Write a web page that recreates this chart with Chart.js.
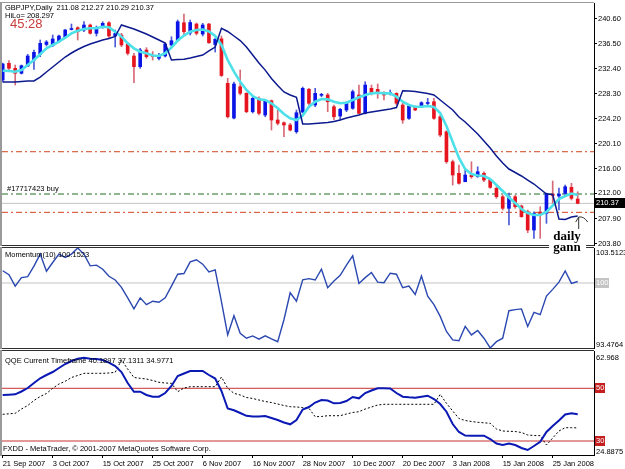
<!DOCTYPE html>
<html>
<head>
<meta charset="utf-8">
<title>GBPJPY Daily</title>
<script src="https://cdn.jsdelivr.net/npm/chart.js@4.4.1/dist/chart.umd.min.js"></script>
<style>
  html, body { margin: 0; padding: 0; background: #ffffff; }
  #wrap { position: relative; width: 625px; height: 469px; overflow: hidden; background: #fff; }
  #wrap canvas { position: absolute; left: 0; }
  #mainChart { top: 0; z-index: 3; }
  #momChart { top: 240px; z-index: 2; }
  #qqeChart { top: 340px; z-index: 1; }
</style>
</head>
<body>
<div id="wrap">
  <canvas id="mainChart" width="625" height="262"></canvas>
  <canvas id="momChart" width="625" height="120"></canvas>
  <canvas id="qqeChart" width="625" height="129"></canvas>
</div>
<script>
// ======================================================
// GBPJPY DAILY — candles + HiLo, Momentum(10), QQE
// ======================================================

// ---- data ----
const dateLabels = ["21 Sep 2007", "3 Oct 2007", "15 Oct 2007", "25 Oct 2007", "6 Nov 2007", "16 Nov 2007",
    "28 Nov 2007", "10 Dec 2007", "20 Dec 2007", "3 Jan 2008", "15 Jan 2008", "25 Jan 2008"];
const dateTickIndex = [0, 8, 16, 24, 32, 40, 48, 56, 64, 72, 80, 88];
const priceTicks = [240.60, 236.50, 232.40, 228.30, 224.20, 220.10, 216.00, 212.00, 207.90, 203.80];

const openP = [
    230.55, 233.28, 232.47, 231.65, 232.84, 233.82, 234.76, 236.36, 236.16, 236.82,
    237.54, 238.81, 239.11, 238.73, 239.55, 238.19, 239.27, 239.92, 237.75, 237.91,
    236.44, 234.48, 232.73, 235.46, 234.60, 234.10, 234.48, 236.28, 236.98, 239.92,
    238.24, 239.71, 238.07, 239.71, 236.36, 237.29, 230.01, 224.33, 229.45, 228.37,
    225.36, 227.55, 224.82, 227.16, 224.01, 223.56, 223.19, 222.09, 225.31, 229.03,
    226.46, 228.05, 228.10, 226.18, 224.66, 225.64, 225.92, 228.10, 225.10, 229.19,
    229.03, 228.54, 228.32, 228.37, 226.46, 224.28, 226.18, 226.18, 226.71, 227.00,
    224.54, 222.09, 217.18, 215.29, 213.91, 215.01, 214.73, 215.29, 214.30, 212.83,
    211.46, 209.56, 211.46, 209.94, 209.00, 206.01, 208.95, 208.74, 211.90, 211.57,
    212.01, 212.99, 211.08];
const highP = [
    233.33, 233.71, 233.01, 233.01, 234.76, 235.46, 237.10, 237.01, 237.91, 237.91,
    238.85, 239.71, 239.27, 240.09, 239.71, 239.39, 240.09, 240.09, 238.73, 238.19,
    236.65, 234.92, 235.74, 235.84, 235.20, 234.92, 236.60, 237.63, 240.37, 241.35,
    240.37, 239.87, 239.82, 239.82, 237.42, 237.75, 230.83, 230.22, 232.19, 228.47,
    227.82, 227.82, 227.28, 227.28, 225.64, 223.73, 223.47, 225.64, 229.40, 229.19,
    229.19, 228.37, 228.37, 226.46, 225.92, 227.00, 228.92, 229.73, 230.27, 229.73,
    229.90, 228.64, 228.92, 228.47, 226.74, 226.46, 226.30, 227.00, 227.55, 227.55,
    224.82, 222.25, 217.46, 216.64, 216.10, 217.18, 216.36, 215.55, 214.47, 213.09,
    211.73, 212.06, 211.73, 210.10, 209.28, 209.00, 209.82, 212.06, 214.03, 212.88,
    213.37, 213.65, 212.27];
const lowP = [
    230.22, 231.91, 229.73, 231.53, 232.73, 232.30, 234.36, 236.11, 236.00, 236.72,
    237.37, 238.73, 237.10, 238.45, 238.07, 237.75, 239.01, 237.37, 235.95, 236.00,
    234.64, 230.11, 232.46, 234.10, 233.82, 233.82, 234.31, 236.00, 236.93, 237.91,
    237.91, 237.91, 237.75, 236.55, 235.13, 231.12, 224.33, 224.17, 228.10, 225.20,
    225.15, 224.82, 224.54, 222.37, 223.19, 221.27, 222.21, 221.83, 225.15, 226.46,
    226.18, 227.82, 225.36, 224.01, 224.01, 225.36, 225.76, 224.99, 224.99, 228.10,
    227.55, 227.28, 228.10, 226.46, 223.47, 224.12, 225.53, 226.08, 226.46, 224.12,
    221.27, 216.92, 213.37, 213.53, 213.91, 214.47, 214.63, 213.91, 212.83, 211.19,
    209.28, 206.83, 209.56, 208.09, 205.57, 204.65, 204.65, 207.10, 210.37, 209.28,
    211.73, 210.92, 210.29];
const closeP = [
    233.17, 232.47, 231.65, 232.89, 234.48, 235.08, 236.55, 236.77, 237.26, 237.75,
    238.73, 238.89, 238.45, 239.55, 238.19, 239.17, 239.82, 237.75, 238.16, 236.28,
    234.92, 232.73, 235.46, 234.36, 234.40, 234.48, 236.44, 236.98, 240.09, 238.45,
    239.96, 238.19, 239.55, 236.65, 237.21, 231.29, 224.54, 229.90, 228.37, 225.36,
    227.55, 225.10, 227.16, 224.01, 223.47, 223.19, 222.37, 225.20, 229.19, 226.74,
    228.37, 228.15, 227.00, 224.54, 225.76, 226.84, 228.64, 225.10, 229.73, 228.37,
    228.64, 228.10, 228.42, 226.74, 224.01, 226.30, 225.64, 226.84, 226.79, 224.28,
    221.55, 217.18, 215.01, 213.65, 215.01, 214.73, 215.55, 214.19, 212.99, 211.46,
    209.56, 211.46, 209.82, 208.19, 206.01, 208.74, 208.62, 212.01, 211.66, 211.90,
    213.09, 211.19, 210.37];

// cyan fast average and the dark blue HiLo line
const fastMA = [
    232.07, 232.02, 231.91, 232.19, 233.01, 233.82, 234.76, 235.74, 236.28, 236.82,
    237.47, 238.19, 238.62, 238.90, 239.01, 239.01, 239.27, 239.17, 238.45, 237.64,
    236.56, 235.74, 235.18, 234.92, 234.56, 234.48, 234.92, 235.87, 237.01, 237.83,
    238.45, 238.73, 238.81, 238.49, 237.75, 236.28, 233.82, 231.91, 230.27, 228.92,
    227.93, 227.39, 227.28, 226.74, 225.92, 224.99, 224.29, 224.01, 224.74, 226.18,
    227.00, 227.44, 227.39, 227.00, 226.74, 226.84, 227.28, 227.72, 228.10, 228.37,
    228.47, 228.37, 228.37, 227.82, 227.00, 226.46, 226.18, 226.18, 226.30, 226.13,
    225.15, 223.03, 220.41, 217.79, 215.99, 215.17, 214.93, 214.85, 214.36, 213.37,
    212.39, 211.33, 210.43, 209.45, 208.79, 208.47, 208.47, 208.96, 210.02, 211.08,
    211.57, 211.98, 211.74];
const hiLo = [
    230.22, 230.22, 230.22, 230.30, 230.39, 230.39, 231.04, 231.86, 232.68, 233.50,
    234.31, 234.97, 235.54, 236.03, 236.44, 236.77, 237.10, 237.34, 237.67, 239.55,
    239.22, 238.90, 238.49, 238.08, 237.59, 237.10, 236.61, 233.82, 233.91, 233.94,
    234.15, 234.40, 234.64, 235.30, 235.95, 239.01, 238.49, 237.75, 237.01, 235.95,
    234.64, 233.33, 232.17, 230.80, 229.65, 228.59, 228.10, 227.72, 223.35, 223.35,
    223.43, 223.52, 223.60, 223.76, 224.01, 224.33, 224.58, 224.83, 225.15, 225.32,
    225.48, 225.64, 225.81, 226.05, 228.80, 228.75, 228.67, 228.51, 228.34, 228.10,
    227.28, 226.46, 225.64, 224.50, 223.68, 222.70, 221.72, 220.57, 219.43, 218.12,
    216.97, 215.99, 215.42, 214.85, 214.19, 213.54, 212.72, 211.90, 211.82, 207.81,
    207.73, 208.14, 208.30];

const redLevels = [218.82, 208.90];
const buyLevel = [211.90];
const bidLevel = [210.37];

const momentum = [
    101.23, 100.83, 99.69, 100.54, 100.64, 101.69, 102.90, 101.18, 102.06, 102.90,
    102.57, 102.90, 103.51, 102.90, 101.72, 101.79, 101.38, 100.67, 100.30, 99.56,
    98.51, 97.40, 98.51, 97.83, 98.17, 98.07, 98.51, 99.69, 100.88, 100.95,
    102.12, 102.33, 101.89, 101.11, 101.31, 98.14, 94.79, 96.72, 94.96, 94.46,
    94.69, 94.36, 94.69, 94.39, 94.11, 96.31, 99.02, 98.17, 100.32, 100.44,
    100.30, 101.38, 99.53, 100.19, 100.77, 101.79, 102.73, 99.96, 100.54, 101.05,
    100.09, 100.03, 100.98, 100.88, 99.53, 99.69, 98.85, 100.70, 98.68, 97.83,
    96.65, 95.13, 94.29, 94.21, 95.64, 94.79, 95.23, 94.46, 93.48, 94.11,
    94.46, 97.22, 97.33, 97.40, 95.64, 97.05, 96.82, 98.68, 99.36, 100.09,
    101.21, 99.96, 100.15];
const momLevel = [100];
const momBounds = [93.4764, 103.5123];

const qqeMain = [
    47.46, 47.57, 47.72, 48.79, 50.11, 52.01, 53.80, 55.05, 56.19, 57.70,
    59.22, 60.36, 61.23, 61.61, 61.23, 61.12, 60.74, 59.72, 58.46, 56.19,
    52.01, 48.71, 48.71, 47.46, 46.81, 46.81, 48.22, 50.87, 54.67, 55.62,
    56.57, 56.57, 56.57, 55.05, 53.72, 49.00, 42.33, 41.65, 40.63, 39.56,
    39.30, 39.30, 39.49, 38.73, 37.97, 37.02, 36.34, 37.97, 41.95, 42.90,
    44.61, 45.56, 45.37, 44.31, 44.42, 45.18, 46.70, 46.20, 48.22, 49.17,
    50.00, 50.00, 49.92, 48.22, 46.81, 46.58, 46.43, 46.81, 47.19, 45.94,
    44.04, 41.12, 36.45, 33.42, 32.09, 32.01, 32.01, 32.01, 30.76, 29.05,
    28.48, 29.05, 28.48, 27.34, 26.58, 28.10, 29.73, 33.42, 35.69, 37.78,
    40.06, 40.51, 40.19];
const qqeSignal = [
    40.13, 40.32, 40.51, 42.14, 43.47, 45.37, 46.89, 48.03, 50.00, 51.63,
    52.66, 54.10, 54.86, 55.69, 55.69, 55.69, 55.69, 55.81, 56.07, 60.74,
    57.32, 54.10, 53.80, 53.53, 52.96, 52.28, 52.01, 51.90, 48.71, 50.11,
    50.61, 50.61, 50.61, 50.61, 50.61, 54.29, 50.00, 48.10, 47.46, 46.51,
    46.13, 45.56, 44.99, 44.61, 44.04, 43.47, 43.02, 42.90, 42.71, 42.41,
    39.22, 39.30, 39.60, 39.60, 39.60, 40.25, 40.82, 41.12, 42.14, 42.90,
    43.66, 43.93, 43.93, 43.93, 43.93, 43.93, 43.93, 43.93, 43.93, 43.93,
    47.72, 44.31, 41.39, 38.54, 37.78, 37.40, 37.10, 36.91, 36.72, 34.55,
    33.80, 33.68, 33.61, 33.23, 32.28, 32.09, 32.01, 28.48, 31.14, 33.80,
    35.05, 35.05, 34.98];
const qqeLevels = [50, 30];
const qqeBounds = [24.8875, 62.968];

// ---- look ----
const FONT_FAMILY = "'Liberation Sans', Arial, sans-serif";
const FONT = "7.5px " + FONT_FAMILY;
const X_MIN = -0.112, X_MAX = 94.608;
const BULL = "#0a14e6", BEAR = "#e6141e";
const BULL_WICK = "#4a5ad8", BEAR_WICK = "#d86a78";

Chart.defaults.font.family = FONT_FAMILY;
Chart.defaults.font.size = 7.5;
Chart.defaults.color = "#000";

const idx = closeP.map((_, i) => i);
const series = arr => arr.map((v, i) => ({ x: i, y: v }));
const hline = v => [{ x: X_MIN, y: v }, { x: X_MAX, y: v }];

function lineSet(data, color, width, order, dash) {
    return {
        type: "line", data, borderColor: color, borderWidth: width, borderDash: dash || [],
        pointRadius: 0, fill: false, tension: 0, order
    };
}

function hiddenX() {
    return { type: "linear", min: X_MIN, max: X_MAX, offset: false, bounds: "data", display: false, grid: { offset: false } };
}

function rightAxis(min, max, tickValues) {
    return {
        type: "linear", position: "right", min, max, bounds: "data",
        grid: { drawOnChartArea: false, drawTicks: !!tickValues, tickLength: 3, color: "#000" },
        border: { display: true, color: "#000" },
        ticks: {
            display: !!tickValues, padding: 1, autoSkip: false, color: "#000",
            callback: v => Number(v).toFixed(2)
        },
        afterBuildTicks: s => { if (tickValues) s.ticks = tickValues.map(v => ({ value: v })); },
        afterFit: s => { s.width = 31; s.paddingTop = 0; s.paddingBottom = 0; }
    };
}

function drawFrame(ctx, a, topColor, bottomColor) {
    ctx.lineWidth = 1;
    ctx.strokeStyle = topColor;
    ctx.beginPath(); ctx.moveTo(a.left, a.top - 0.5); ctx.lineTo(a.right, a.top - 0.5); ctx.stroke();
    if (bottomColor) {
        ctx.strokeStyle = bottomColor;
        ctx.beginPath(); ctx.moveTo(a.left, a.bottom + 0.5); ctx.lineTo(a.right, a.bottom + 0.5); ctx.stroke();
    }
    ctx.strokeStyle = "#9a9a9a";
    ctx.lineWidth = 2;
    ctx.beginPath(); ctx.moveTo(1, a.top - 1); ctx.lineTo(1, a.bottom + 1); ctx.stroke();
}

function axisBox(ctx, a, y, text, bg, fg, w) {
    ctx.fillStyle = bg;
    ctx.fillRect(a.right + 1, Math.round(y) - 5, w, 10);
    ctx.fillStyle = fg;
    ctx.textAlign = "left";
    ctx.textBaseline = "middle";
    ctx.fillText(text, a.right + 2, y);
}

// ---- main price panel ----
const mainOverlay = {
    id: "mainOverlay",
    afterDraw(chart) {
        const { ctx, chartArea: a, scales: { x, y } } = chart;
        ctx.save();
        drawFrame(ctx, a, "#9a9a9a", "#303030");

        ctx.font = FONT;
        ctx.fillStyle = "#000";
        ctx.textAlign = "left";
        ctx.textBaseline = "middle";
        ctx.fillText("GBPJPY,Daily  211.08 212.27 210.29 210.37", a.left + 3, a.top + 5);
        ctx.fillText("HiLo= 208.297", a.left + 3, a.top + 13);
        ctx.font = "13px " + FONT_FAMILY;
        ctx.fillStyle = "#c83c3c";
        ctx.fillText("45:28", a.left + 8, a.top + 21);

        ctx.font = FONT;
        ctx.fillStyle = "#000";
        ctx.fillText("#17717423 buy", a.left + 5, y.getPixelForValue(buyLevel[0]) - 5);

        axisBox(ctx, a, y.getPixelForValue(closeP[closeP.length - 1]), closeP[closeP.length - 1].toFixed(2), "#000", "#fff", 30);

        // "daily gann" note with its arrow
        const last = hiLo.length - 1;
        const tipX = x.getPixelForValue(last) + 1;
        const tipY = y.getPixelForValue(hiLo[last]) + 1;
        ctx.strokeStyle = "#333";
        ctx.lineWidth = 1;
        ctx.beginPath();
        ctx.moveTo(tipX, tipY + 12); ctx.lineTo(tipX, tipY);
        ctx.moveTo(tipX - 3, tipY + 5); ctx.lineTo(tipX, tipY);
        ctx.quadraticCurveTo(tipX + 5, tipY - 1, tipX + 9, tipY + 5);
        ctx.stroke();

        const gx = x.getPixelForValue(90.3);
        const gy = y.getPixelForValue(204.4);
        ctx.font = "bold 13px 'Liberation Serif', 'DejaVu Serif', serif";
        ctx.textAlign = "center";
        ctx.textBaseline = "alphabetic";
        ctx.fillStyle = "#fff";
        ctx.fillRect(gx - 18, gy + 2, 37, 13);
        ctx.fillStyle = "#000";
        ctx.fillText("daily", gx, gy);
        ctx.fillText("gann", gx, gy + 11);
        ctx.restore();
    }
};

const bodyColors = idx.map(i => closeP[i] >= openP[i] ? BULL : BEAR);
const wickColors = idx.map(i => closeP[i] >= openP[i] ? BULL_WICK : BEAR_WICK);

new Chart(document.getElementById("mainChart"), {
    type: "bar",
    data: {
        datasets: [
            lineSet(hline(redLevels[0]), "#d0451e", 1, 9, [6, 3, 2, 3]),
            lineSet(hline(redLevels[1]), "#d0451e", 1, 9, [6, 3, 2, 3]),
            lineSet(hline(buyLevel[0]), "#1f6e1f", 1, 9, [6, 3, 2, 3]),
            lineSet(hline(bidLevel[0]), "#c4c4c4", 1, 9),
            {
                type: "bar", data: idx.map(i => ({ x: i, y: [lowP[i], highP[i]] })),
                backgroundColor: wickColors, barThickness: 1, grouped: false, borderWidth: 0, order: 5
            },
            {
                type: "bar", data: idx.map(i => ({ x: i, y: [openP[i], closeP[i]] })),
                backgroundColor: bodyColors, barThickness: 3, grouped: false, borderWidth: 0, minBarLength: 1, order: 4
            },
            lineSet(series(fastMA), "#4ee0e8", 2.6, 3),
            lineSet(series(hiLo), "#0c1a8e", 1.5, 2)
        ]
    },
    options: {
        responsive: false, animation: false, events: [],
        layout: { padding: { left: 2, top: 3, right: 0, bottom: 17 } },
        plugins: { legend: { display: false }, tooltip: { enabled: false } },
        scales: { x: hiddenX(), y: rightAxis(203.56, 243.15, priceTicks) }
    },
    plugins: [mainOverlay]
});

// ---- momentum panel ----
const momOverlay = {
    id: "momOverlay",
    afterDraw(chart) {
        const { ctx, chartArea: a, scales: { y } } = chart;
        ctx.save();
        drawFrame(ctx, a, "#303030", "#303030");
        ctx.font = FONT;
        ctx.fillStyle = "#000";
        ctx.textAlign = "left";
        ctx.textBaseline = "middle";
        ctx.fillText("Momentum(10) 100.1523", a.left + 3, a.top + 7);
        ctx.fillText(momBounds[1].toFixed(4), a.right + 2, y.getPixelForValue(momBounds[1]) + 5);
        ctx.fillText(momBounds[0].toFixed(4), a.right + 2, y.getPixelForValue(momBounds[0]) - 3);
        axisBox(ctx, a, y.getPixelForValue(momLevel[0]), String(momLevel[0]), "#c4c4c4", "#fff", 14);
        ctx.restore();
    }
};

new Chart(document.getElementById("momChart"), {
    type: "line",
    data: {
        datasets: [
            lineSet(hline(momLevel[0]), "#c4c4c4", 1, 2),
            lineSet(series(momentum), "#2a48b0", 1.4, 1)
        ]
    },
    options: {
        responsive: false, animation: false, events: [],
        layout: { padding: { left: 2, top: 8, right: 0, bottom: 12 } },
        plugins: { legend: { display: false }, tooltip: { enabled: false } },
        scales: { x: hiddenX(), y: rightAxis(momBounds[0], momBounds[1], null) }
    },
    plugins: [momOverlay]
});

// ---- QQE panel ----
const qqeOverlay = {
    id: "qqeOverlay",
    afterDraw(chart) {
        const { ctx, chartArea: a, scales: { y } } = chart;
        ctx.save();
        drawFrame(ctx, a, "#303030", null);
        ctx.font = FONT;
        ctx.fillStyle = "#000";
        ctx.textAlign = "left";
        ctx.textBaseline = "middle";
        ctx.fillText("QQE Current Timeframe 40.1897 37.1311 34.9771", a.left + 3, a.top + 10);
        ctx.fillText("FXDD - MetaTrader, \u00a9 2001-2007 MetaQuotes Software Corp.", a.left + 1, a.bottom - 6);
        ctx.fillText(String(qqeBounds[1]), a.right + 2, y.getPixelForValue(qqeBounds[1]) + 4);
        ctx.fillText(String(qqeBounds[0]), a.right + 2, y.getPixelForValue(qqeBounds[0]) - 3);
        qqeLevels.forEach(v => axisBox(ctx, a, y.getPixelForValue(v), String(v), "#c41e1e", "#fff", 10));
        ctx.restore();
    }
};

new Chart(document.getElementById("qqeChart"), {
    type: "line",
    data: {
        datasets: [
            lineSet(hline(qqeLevels[0]), "#c83232", 1, 3),
            lineSet(hline(qqeLevels[1]), "#c83232", 1, 3),
            lineSet(series(qqeSignal), "#000", 1, 2, [2, 2]),
            lineSet(series(qqeMain), "#0a18b4", 2, 1)
        ]
    },
    options: {
        responsive: false, animation: false, events: [],
        layout: { padding: { left: 2, top: 11, right: 0, bottom: 0 } },
        plugins: { legend: { display: false }, tooltip: { enabled: false } },
        scales: {
            x: {
                type: "linear", min: X_MIN, max: X_MAX, offset: false, bounds: "data",
                grid: { drawOnChartArea: false, tickLength: 3, color: "#000", offset: false },
                border: { display: true, color: "#000" },
                ticks: {
                    autoSkip: false, maxRotation: 0, align: "start", padding: 1, color: "#000",
                    callback: v => { const k = dateTickIndex.indexOf(v); return k >= 0 ? dateLabels[k] : ""; }
                },
                afterBuildTicks: s => { s.ticks = dateTickIndex.map(v => ({ value: v })); },
                afterFit: s => { s.height = 14; s.paddingLeft = 0; s.paddingRight = 0; }
            },
            y: rightAxis(24.69, 64.16, null)
        }
    },
    plugins: [qqeOverlay]
});
</script>
</body>
</html>
